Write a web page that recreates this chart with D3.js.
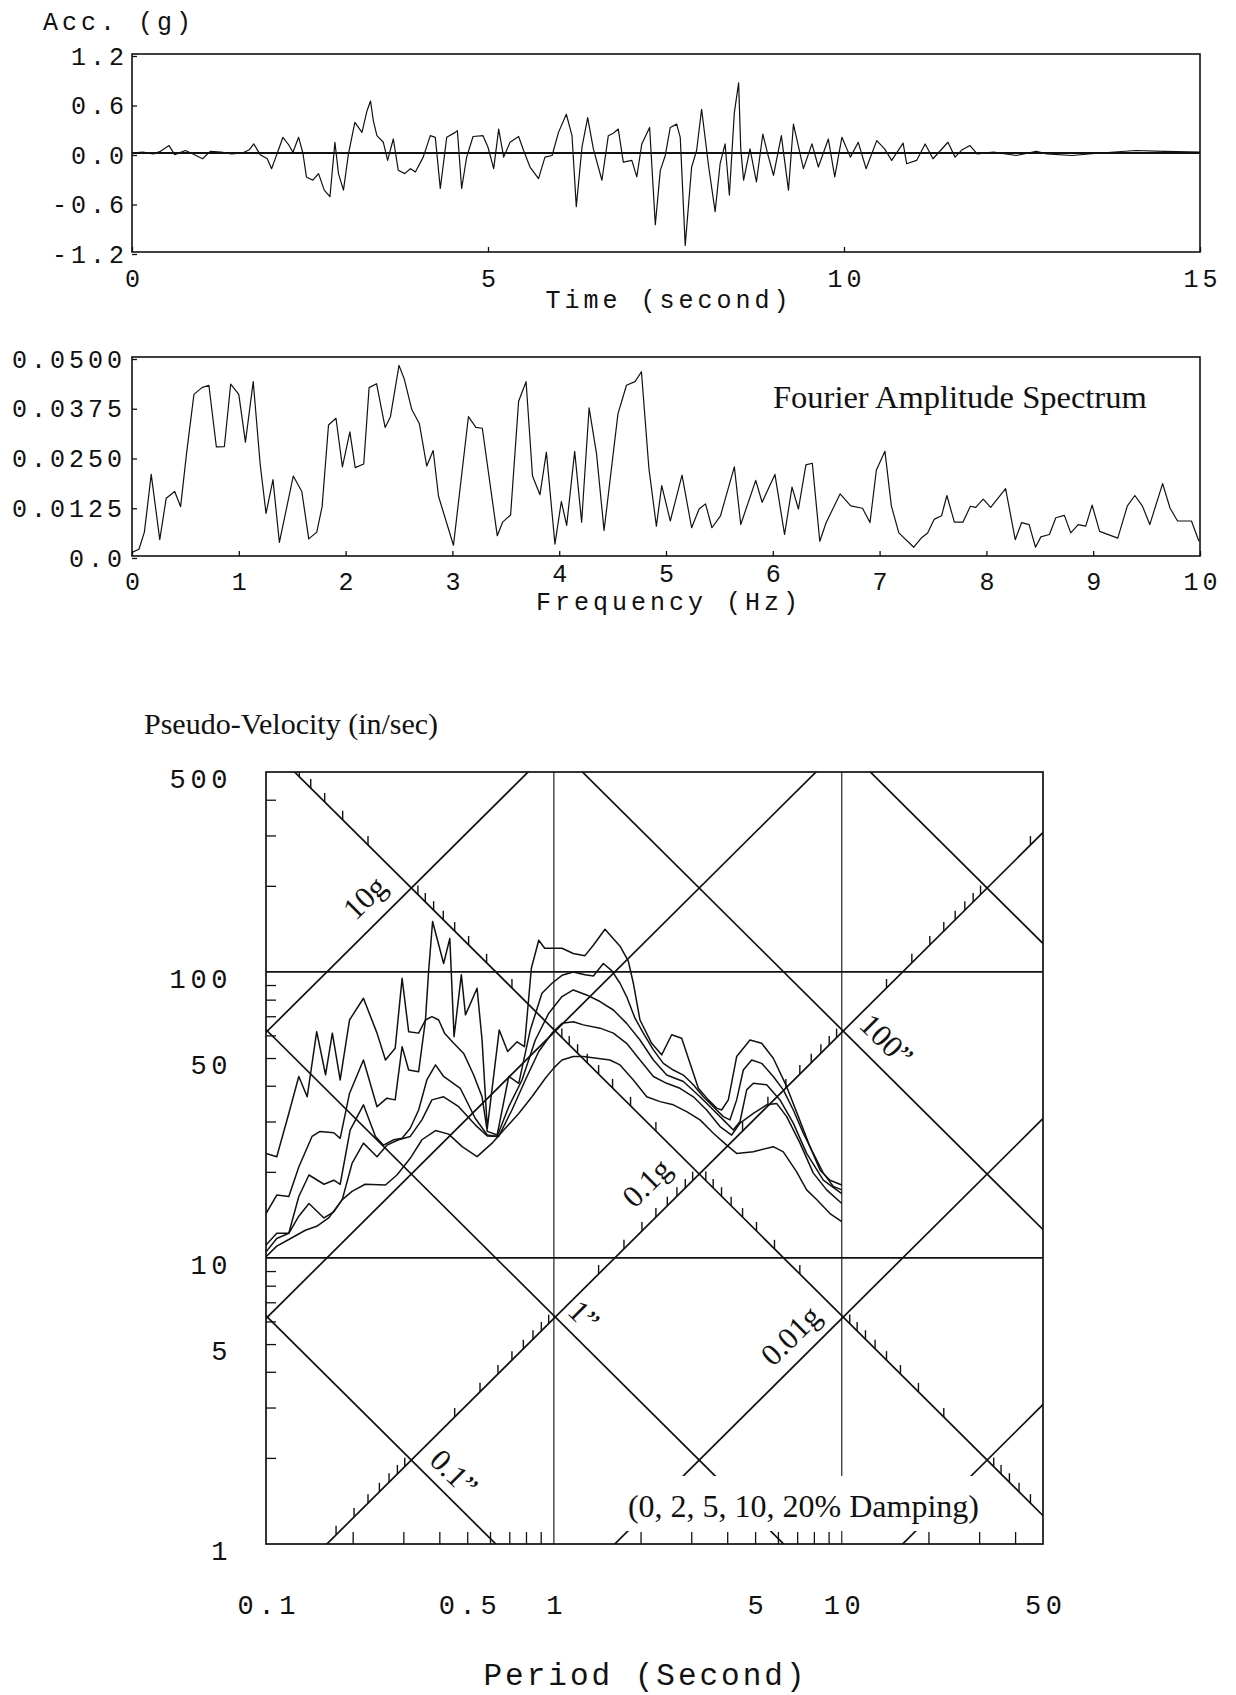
<!DOCTYPE html>
<html><head><meta charset="utf-8">
<script src="https://cdn.jsdelivr.net/npm/d3@7"></script>
<style>
body{margin:0;background:#fff;}
svg{display:block;background:#fff;}
</style></head><body>
<svg id="c" width="1236" height="1695"></svg>
<script>
// ================= DATA =================
// Acceleration time history (t in s, acc in g)
const accTime = [0,0.15,0.3,0.4,0.52,0.6,0.75,0.85,0.99,1.1,1.25,1.4,1.55,1.65,1.71,1.8,1.9,1.96,2.02,2.07,2.12,2.2,2.26,2.34,2.4,2.45,2.54,2.62,2.7,2.78,2.85,2.9,2.97,3.04,3.13,3.23,3.30,3.35,3.39,3.44,3.53,3.59,3.67,3.74,3.83,3.91,3.98,4.09,4.19,4.26,4.33,4.42,4.54,4.57,4.63,4.70,4.79,4.93,5.00,5.08,5.15,5.22,5.31,5.43,5.50,5.59,5.71,5.80,5.90,5.99,6.10,6.18,6.24,6.32,6.40,6.48,6.60,6.69,6.76,6.83,6.90,7.02,7.09,7.16,7.27,7.35,7.42,7.49,7.56,7.65,7.70,7.77,7.86,7.93,8.00,8.10,8.19,8.26,8.33,8.39,8.46,8.52,8.55,8.59,8.68,8.77,8.86,8.94,9.01,9.12,9.22,9.29,9.43,9.55,9.64,9.78,9.87,9.97,10.09,10.20,10.31,10.46,10.57,10.67,10.83,10.88,11.02,11.14,11.25,11.46,11.56,11.66,11.77,11.87,12.1,12.42,12.7,12.85,13.2,13.6,14.1,14.5,15];
const accValue = [0,0.01,-0.01,0.02,0.09,-0.02,0.03,-0.01,-0.07,0.02,0.01,-0.01,0.0,0.04,0.11,-0.02,-0.07,-0.19,-0.05,0.07,0.19,0.10,0.01,0.19,0.0,-0.29,-0.33,-0.25,-0.45,-0.53,0.13,-0.25,-0.45,-0.01,0.37,0.25,0.51,0.63,0.39,0.21,0.13,-0.09,0.17,-0.21,-0.25,-0.19,-0.23,-0.05,0.21,0.19,-0.43,0.19,0.25,0.27,-0.43,-0.05,0.20,0.21,0.07,-0.19,0.29,-0.05,0.13,0.20,0.03,-0.17,-0.31,-0.05,-0.03,0.25,0.47,0.21,-0.65,0.07,0.43,0.05,-0.33,0.21,0.24,0.29,-0.11,-0.09,-0.29,0.11,0.31,-0.87,-0.21,-0.03,0.31,0.35,0.19,-1.12,-0.17,0.03,0.53,-0.17,-0.71,-0.13,0.11,-0.51,0.49,0.85,0.05,-0.33,0.05,-0.35,0.23,-0.05,-0.27,0.21,-0.45,0.35,-0.19,0.11,-0.17,0.17,-0.29,0.19,-0.05,0.13,-0.19,0.15,0.05,-0.09,0.12,-0.13,-0.09,0.11,-0.07,0.13,-0.05,0.04,0.09,-0.01,0.01,-0.03,0.02,-0.01,-0.03,0.0,0.03,0.02,0.01];

// Fourier amplitude spectrum (Hz, amplitude)
const fasFreq = [0,0.065,0.116,0.18,0.26,0.32,0.40,0.455,0.51,0.58,0.655,0.72,0.79,0.865,0.924,1.0,1.062,1.135,1.2,1.255,1.32,1.38,1.51,1.59,1.655,1.73,1.78,1.84,1.91,1.97,2.04,2.09,2.17,2.22,2.29,2.37,2.42,2.50,2.55,2.62,2.69,2.76,2.82,2.87,3.01,3.15,3.22,3.28,3.42,3.47,3.545,3.62,3.69,3.75,3.82,3.88,3.96,4.02,4.07,4.145,4.21,4.28,4.35,4.42,4.55,4.63,4.71,4.77,4.84,4.91,4.96,5.04,5.15,5.24,5.31,5.37,5.43,5.51,5.64,5.70,5.84,5.90,6.02,6.11,6.18,6.24,6.31,6.37,6.44,6.50,6.63,6.73,6.84,6.91,6.97,7.05,7.11,7.18,7.32,7.39,7.45,7.51,7.58,7.63,7.70,7.78,7.85,7.90,7.97,8.04,8.18,8.27,8.33,8.40,8.46,8.51,8.59,8.65,8.73,8.79,8.86,8.93,8.99,9.06,9.23,9.32,9.39,9.46,9.53,9.65,9.72,9.79,9.92,9.99];
const fasAmp = [0.0009,0.0017,0.006,0.0205,0.0041,0.0145,0.0162,0.0124,0.0256,0.0406,0.0423,0.0429,0.0274,0.0275,0.0432,0.0406,0.0286,0.0438,0.0231,0.0107,0.0192,0.0034,0.0201,0.0162,0.0043,0.006,0.0124,0.0329,0.0346,0.0224,0.0312,0.0222,0.0231,0.0423,0.0433,0.0323,0.035,0.0479,0.0444,0.0368,0.0333,0.0226,0.0265,0.015,0.0027,0.035,0.0323,0.0321,0.0051,0.0085,0.0103,0.0389,0.0438,0.0201,0.0154,0.0261,0.003,0.0137,0.0077,0.0263,0.0085,0.0372,0.0256,0.0064,0.0357,0.0429,0.0438,0.0463,0.022,0.0075,0.0177,0.0088,0.0203,0.0071,0.0118,0.0131,0.0071,0.0101,0.0224,0.0079,0.019,0.0135,0.0205,0.0054,0.0173,0.0118,0.0229,0.0233,0.0037,0.0084,0.0156,0.0126,0.012,0.0084,0.0216,0.0263,0.0126,0.0058,0.0022,0.0045,0.0058,0.0092,0.0101,0.0152,0.0085,0.0085,0.0125,0.0122,0.0143,0.0122,0.0169,0.0041,0.0084,0.0079,0.0022,0.0048,0.0054,0.0096,0.0102,0.0058,0.0079,0.0075,0.0128,0.0062,0.0045,0.0126,0.0152,0.0126,0.0079,0.0182,0.012,0.0088,0.0088,0.0037];

// Pseudo-velocity response spectra: [period (s), PSV (in/s)]
const psv0 = [[0.100,23.2],[0.109,22.6],[0.120,32.0],[0.130,43.1],[0.139,36.6],[0.150,61.8],[0.161,43.7],[0.170,61.1],[0.181,41.9],[0.195,67.9],[0.218,80.9],[0.243,61.1],[0.260,49.2],[0.281,54.1],[0.297,95],[0.313,61.8],[0.339,61.1],[0.358,67.9],[0.367,100],[0.379,150],[0.414,107],[0.435,131],[0.450,59.4],[0.477,97.8],[0.493,70.8],[0.541,87.7],[0.563,57.8],[0.587,28.4],[0.646,62.7],[0.691,52.7],[0.745,57.0],[0.790,54.8],[0.835,103],[0.886,129],[0.929,121],[1.067,121],[1.168,116],[1.282,114],[1.371,124],[1.505,141],[1.697,123],[1.814,109],[1.888,91.3],[1.991,67.9],[2.186,56.3],[2.368,51.3],[2.566,60.3],[2.779,58.6],[2.931,49.9],[3.176,39.2],[3.440,35.7],[3.677,33.4],[3.826,32.9],[4.036,35.7],[4.314,50.6],[4.800,57.8],[5.269,56.3],[5.783,49.9],[6.436,39.7],[7.066,31.2],[7.757,24.5],[8.401,20.3],[9.100,18.7],[10.0,18.0]];
const psv2 = [[0.100,14.3],[0.109,16.6],[0.120,16.4],[0.130,20.8],[0.1445,26.6],[0.154,27.7],[0.172,27.4],[0.181,26.2],[0.195,37.6],[0.218,49.2],[0.243,33.8],[0.263,36.2],[0.281,35.7],[0.297,54.8],[0.313,45.4],[0.339,44.8],[0.358,67.9],[0.377,69.8],[0.398,67.9],[0.417,61.1],[0.449,56.3],[0.486,51.9],[0.526,43.7],[0.563,36.6],[0.587,27.7],[0.635,26.9],[0.697,43.1],[0.755,40.8],[0.828,62.7],[0.909,84.2],[0.985,91.3],[1.067,97.3],[1.168,100],[1.282,97.7],[1.371,96.8],[1.485,107],[1.588,101],[1.697,91.3],[1.789,82.0],[1.913,68.9],[2.045,61.1],[2.216,53.4],[2.400,47.9],[2.599,45.4],[2.817,43.6],[3.051,40.3],[3.305,36.6],[3.580,33.8],[3.878,31.2],[4.090,30.4],[4.314,35.7],[4.550,45.4],[4.864,49.2],[5.269,47.9],[5.783,43.1],[6.265,38.7],[6.786,32.9],[7.352,27.3],[7.964,23.2],[8.627,19.8],[9.346,17.8],[10.0,17.3]];
const psv5 = [[0.100,11.1],[0.109,12.2],[0.120,12.2],[0.130,16.4],[0.141,19.5],[0.159,18.1],[0.172,18.7],[0.181,18.1],[0.196,28.0],[0.218,34.3],[0.240,26.6],[0.256,24.8],[0.278,25.9],[0.297,26.2],[0.317,28.4],[0.339,32.9],[0.362,41.9],[0.388,47.3],[0.414,43.1],[0.473,39.2],[0.533,30.8],[0.587,26.9],[0.635,26.6],[0.697,33.8],[0.775,41.9],[0.862,57.8],[0.959,71.6],[1.067,82.0],[1.168,86.5],[1.299,83.1],[1.446,78.8],[1.609,73.6],[1.789,66.1],[1.991,57.8],[2.216,49.2],[2.465,43.6],[2.817,41.4],[3.218,36.6],[3.580,32.9],[3.878,30.4],[4.201,28.0],[4.432,30.0],[4.674,38.7],[4.929,40.8],[5.484,40.3],[6.100,35.7],[6.786,29.6],[7.551,23.2],[8.627,18.7],[10.0,16.8]];
const psv10 = [[0.100,10.5],[0.109,11.7],[0.120,12.2],[0.130,14.0],[0.141,15.5],[0.159,13.8],[0.172,14.5],[0.184,16.0],[0.199,21.4],[0.218,25.2],[0.243,22.6],[0.263,24.8],[0.289,25.9],[0.317,26.6],[0.348,30.4],[0.377,35.7],[0.414,36.6],[0.467,33.8],[0.533,29.2],[0.587,26.7],[0.643,26.6],[0.715,32.9],[0.796,41.9],[0.886,52.7],[0.985,61.1],[1.067,66.2],[1.168,67.0],[1.265,65.3],[1.446,63.6],[1.609,61.1],[1.789,56.3],[1.991,49.2],[2.216,43.1],[2.465,40.8],[2.742,39.2],[3.051,36.6],[3.394,32.9],[3.776,28.8],[4.145,26.9],[4.432,29.6],[4.929,32.0],[5.484,34.3],[5.939,34.7],[6.436,31.2],[7.160,25.2],[7.964,19.8],[8.861,17.3],[10.0,15.5]];
const psv20 = [[0.100,10.1],[0.109,11.0],[0.120,11.6],[0.137,12.5],[0.150,12.9],[0.165,13.8],[0.184,16.0],[0.199,17.1],[0.221,18.1],[0.260,18.0],[0.285,19.5],[0.317,22.3],[0.348,25.9],[0.388,27.9],[0.431,27.1],[0.480,24.5],[0.541,22.6],[0.610,25.2],[0.678,28.4],[0.755,32.0],[0.839,36.6],[0.934,42.5],[0.998,46.1],[1.067,49.2],[1.168,50.6],[1.265,50.6],[1.408,49.9],[1.566,49.2],[1.697,47.3],[1.888,41.9],[2.101,36.6],[2.337,35.2],[2.599,34.3],[2.892,32.5],[3.218,30.4],[3.580,27.3],[3.983,24.8],[4.314,23.2],[4.929,23.5],[5.783,24.5],[6.265,23.5],[6.970,20.0],[7.551,17.3],[8.177,16.0],[9.100,14.3],[10.0,13.4]];
const psvCurves = [psv0, psv2, psv5, psv10, psv20];

// Axis ticks / labels
const accTickValues = [1.2, 0.6, 0, -0.6, -1.2];
const accTickLabels = ["1.2", "0.6", "0.0", "-0.6", "-1.2"];
const timeTicks = [0, 5, 10, 15];
const fasTickValues = [0.05, 0.0375, 0.025, 0.0125, 0];
const fasTickLabels = ["0.0500", "0.0375", "0.0250", "0.0125", "0.0"];
const freqTicks = [0,1,2,3,4,5,6,7,8,9,10];
const freqRaisedLabels = [4, 5, 6];
const periodLabels = [0.1, 0.5, 1, 5, 10, 50];
const psvLabels = [1, 5, 10, 50, 100, 500];
const periodMinorTicks = [0.2,0.3,0.4,0.5,0.6,0.7,0.8,0.9,2,3,4,5,6,7,8,9,20,30,40];
const psvMinorTicks = [2,3,4,5,6,7,8,9,20,30,40,50,60,70,80,90,200,300,400];
const psvGridH = [10, 100];
const periodGridV = [1, 10];

// Tripartite grid
const accelLines = [0.001, 0.01, 0.1, 1, 10];     // g
const dispLines = [0.1, 1, 10, 100, 1000];         // inch
const tickMultipliers = [2,3,4,5,6,7,8,9];
const accScaleDecades = [0.0001, 0.001, 0.01, 0.1, 1, 10]; // ticks along D = 10"
const dispScaleDecades = [0.01, 0.1, 1, 10, 100, 1000];     // ticks along A = 0.1g
const accAxisOnDisp = 10;
const dispAxisOnAcc = 0.1;
const accLineLabels = [
  {A: 10, T: 0.255, off: 26, text: "10g"},
  {A: 0.1, T: 2.5, off: 31, text: "0.1g"},
  {A: 0.01, T: 7.6, off: 24, text: "0.01g"}
];
const dispLineLabels = [
  {D: 100, T: 12.5, off: 24, text: "100\u201D"},
  {D: 1, T: 1.13, off: 21, text: "1\u201D"},
  {D: 0.1, T: 0.40, off: 21, text: "0.1\u201D"}
];

// ================= DRAWING =================
const G_IN = 386.09, TWO_PI = 2 * Math.PI;
const ink = "#111";
const MONO = "'Liberation Mono','Courier New',monospace";
const SERIF = "'Liberation Serif','Times New Roman',serif";
const svg = d3.select("#c");
const FS = 25, LS = 4.0;

function styleAxis(g, size, ls) {
  g.select(".domain").remove();
  g.selectAll(".tick line").attr("stroke", ink).attr("stroke-width", 1.3);
  g.selectAll(".tick text").attr("font-family", MONO).attr("font-size", size)
    .style("letter-spacing", ls + "px").attr("fill", ink);
}
function monoLabel(x, y, txt, size, ls, anchor) {
  return svg.append("text").attr("x", x).attr("y", y).text(txt)
    .attr("font-family", MONO).attr("font-size", size).style("letter-spacing", ls + "px")
    .attr("text-anchor", anchor || "start").attr("fill", ink);
}

// ---------- Panel 1: acceleration ----------
const x1 = d3.scaleLinear().domain([0, 15]).range([132, 1200]);
const y1 = d3.scaleLinear().domain([-1.2, 1.2]).range([252, 54]);
svg.append("path").datum(d3.zip(accTime, accValue))
  .attr("d", d3.line().x(d => x1(d[0])).y(d => y1(d[1])))
  .attr("fill", "none").attr("stroke", ink).attr("stroke-width", 1.2).attr("stroke-linejoin", "round");
svg.append("line").attr("x1", x1(0)).attr("x2", x1(15)).attr("y1", y1(0)).attr("y2", y1(0))
  .attr("stroke", ink).attr("stroke-width", 2);
svg.append("rect").attr("x", x1(0)).attr("y", y1(1.2)).attr("width", x1(15) - x1(0)).attr("height", y1(-1.2) - y1(1.2))
  .attr("fill", "none").attr("stroke", ink).attr("stroke-width", 1.6);
svg.append("g").attr("transform", `translate(${x1(0)},2)`)
  .call(d3.axisLeft(y1).tickValues(accTickValues).tickSize(-5).tickPadding(4).tickFormat((d, i) => accTickLabels[i]))
  .call(g => styleAxis(g, FS, LS));
svg.append("g").attr("transform", `translate(0,${y1(-1.2)})`)
  .call(d3.axisBottom(x1).tickValues(timeTicks).tickSize(-5).tickPadding(17).tickFormat(d3.format("d")))
  .call(g => { styleAxis(g, FS, LS); g.selectAll(".tick text").attr("dx", LS / 2); });
monoLabel(43, 30, "Acc. (g)", FS, LS);
monoLabel(667 + LS / 2, 308, "Time (second)", FS, LS, "middle");

// ---------- Panel 2: Fourier spectrum ----------
const x2 = d3.scaleLinear().domain([0, 10]).range([132, 1200]);
const y2 = d3.scaleLinear().domain([0, 0.05]).range([556, 357]);
svg.append("path").datum(d3.zip(fasFreq, fasAmp))
  .attr("d", d3.line().x(d => x2(d[0])).y(d => y2(d[1])))
  .attr("fill", "none").attr("stroke", ink).attr("stroke-width", 1.2).attr("stroke-linejoin", "round");
svg.append("rect").attr("x", x2(0)).attr("y", y2(0.05)).attr("width", x2(10) - x2(0)).attr("height", y2(0) - y2(0.05))
  .attr("fill", "none").attr("stroke", ink).attr("stroke-width", 1.6);
svg.append("g").attr("transform", `translate(${x2(0)},2)`)
  .call(d3.axisLeft(y2).tickValues(fasTickValues).tickSize(-5).tickPadding(6).tickFormat((d, i) => fasTickLabels[i]))
  .call(g => styleAxis(g, FS, LS));
svg.append("g").attr("transform", `translate(0,${y2(0)})`)
  .call(d3.axisBottom(x2).tickValues(freqTicks).tickSize(-5).tickPadding(16).tickFormat(d3.format("d")))
  .call(g => {
    styleAxis(g, FS, LS);
    g.selectAll(".tick text").attr("dx", LS / 2)
      .attr("transform", d => freqRaisedLabels.includes(d) ? "translate(0,-8)" : null);
  });
monoLabel(667 + LS / 2, 610, "Frequency (Hz)", FS, LS, "middle");
svg.append("text").attr("x", 773).attr("y", 408).text("Fourier Amplitude Spectrum")
  .attr("font-family", SERIF).attr("font-size", 32.5).attr("fill", ink);

// ---------- Panel 3: tripartite response spectrum ----------
const xs = d3.scaleLog().domain([0.1, 50]).range([266, 1043]);
const ys = d3.scaleLog().domain([1, 500]).range([1544, 772]);
const X0 = xs(0.1), X1 = xs(50), Y0 = ys(500), Y1 = ys(1);

svg.append("defs").append("clipPath").attr("id", "pclip")
  .append("rect").attr("x", X0).attr("y", Y0).attr("width", X1 - X0).attr("height", Y1 - Y0);
const pg = svg.append("g").attr("clip-path", "url(#pclip)");

const psvAcc = (A, T) => A * G_IN * T / TWO_PI;
const psvDisp = (D, T) => TWO_PI * D / T;
const lineGen = d3.line().x(d => xs(d[0])).y(d => ys(d[1]));
const spanT = [0.02, 200];

// grid lines
pg.selectAll(".gh").data(psvGridH).join("line")
  .attr("x1", X0).attr("x2", X1).attr("y1", d => ys(d)).attr("y2", d => ys(d))
  .attr("stroke", ink).attr("stroke-width", 1.8);
pg.selectAll(".gv").data(periodGridV).join("line")
  .attr("y1", Y0).attr("y2", Y1).attr("x1", d => xs(d)).attr("x2", d => xs(d))
  .attr("stroke", ink).attr("stroke-width", 1.1);

// constant acceleration and displacement lines
pg.selectAll(".al").data(accelLines).join("path")
  .attr("d", A => lineGen(spanT.map(T => [T, psvAcc(A, T)])))
  .attr("fill", "none").attr("stroke", ink).attr("stroke-width", 1.7);
pg.selectAll(".dl").data(dispLines).join("path")
  .attr("d", D => lineGen(spanT.map(T => [T, psvDisp(D, T)])))
  .attr("fill", "none").attr("stroke", ink).attr("stroke-width", 1.7);

// scale ticks along the diagonal axes
const accTickVals = accScaleDecades.flatMap(d => tickMultipliers.map(k => k * d));
const dispTickVals = dispScaleDecades.flatMap(d => tickMultipliers.map(k => k * d));
const tAt = (D, A) => TWO_PI * Math.sqrt(D / (A * G_IN));
const accTickPts = accTickVals.map(A => { const T = tAt(accAxisOnDisp, A); return [T, psvDisp(accAxisOnDisp, T)]; });
const dispTickPts = dispTickVals.map(D => { const T = tAt(D, dispAxisOnAcc); return [T, psvAcc(dispAxisOnAcc, T)]; });
pg.selectAll(".dt").data(accTickPts.concat(dispTickPts)).join("line")
  .attr("x1", d => xs(d[0])).attr("x2", d => xs(d[0]))
  .attr("y1", d => ys(d[1])).attr("y2", d => ys(d[1]) - 9)
  .attr("stroke", ink).attr("stroke-width", 1.4);

// response curves
pg.selectAll(".curve").data(psvCurves).join("path")
  .attr("d", d => lineGen(d))
  .attr("fill", "none").attr("stroke", ink).attr("stroke-width", 1.5).attr("stroke-linejoin", "round");

// damping note with white background
const dampBox = svg.append("rect").attr("fill", "#fff");
const dampText = svg.append("text").attr("x", 979).attr("y", 1517).attr("text-anchor", "end")
  .text("(0, 2, 5, 10, 20% Damping)").attr("font-family", SERIF).attr("font-size", 32).attr("fill", ink);
const bb = dampText.node().getBBox();
dampBox.attr("x", bb.x - 8).attr("y", 1476).attr("width", bb.width + 14).attr("height", 1531 - 1476);

// diagonal line labels
function diagLabel(T, psv, slopeSign, off, txt) {
  const x = xs(T), y = ys(psv);
  const xb = xs(T * 1.5), yb = ys(slopeSign > 0 ? psv * 1.5 : psv / 1.5);
  const ang = Math.atan2(yb - y, xb - x) * 180 / Math.PI;
  const len = Math.hypot(xb - x, yb - y);
  let nx = (yb - y) / len, ny = -(xb - x) / len;
  if (ny > 0) { nx = -nx; ny = -ny; }
  const px = x + nx * off, py = y + ny * off;
  svg.append("text").attr("x", px).attr("y", py).text(txt)
    .attr("text-anchor", "middle").attr("dominant-baseline", "central")
    .attr("transform", `rotate(${ang},${px},${py})`)
    .attr("font-family", SERIF).attr("font-size", 31).attr("fill", ink);
}
accLineLabels.forEach(l => diagLabel(l.T, psvAcc(l.A, l.T), 1, l.off, l.text));
dispLineLabels.forEach(l => diagLabel(l.T, psvDisp(l.D, l.T), -1, l.off, l.text));

// inner axis ticks
svg.append("g").attr("transform", `translate(${X0},0)`)
  .call(d3.axisLeft(ys).tickValues(psvMinorTicks).tickSize(-10).tickFormat(""))
  .call(g => styleAxis(g, 10, 0));
svg.append("g").attr("transform", `translate(0,${Y1})`)
  .call(d3.axisBottom(xs).tickValues(periodMinorTicks).tickSize(-12).tickFormat(""))
  .call(g => styleAxis(g, 10, 0));
// labels
svg.append("g").attr("transform", `translate(${X0},7)`)
  .call(d3.axisLeft(ys).tickValues(psvLabels).tickSize(0).tickPadding(34).tickFormat(d3.format("d")))
  .call(g => styleAxis(g, 27, 4.6));
svg.append("g").attr("transform", `translate(0,${Y1})`)
  .call(d3.axisBottom(xs).tickValues(periodLabels).tickSize(0).tickPadding(51).tickFormat(d => String(d)))
  .call(g => { styleAxis(g, 27, 4.6); g.selectAll(".tick text").attr("dx", 2.3); });

// frame
svg.append("rect").attr("x", X0).attr("y", Y0).attr("width", X1 - X0).attr("height", Y1 - Y0)
  .attr("fill", "none").attr("stroke", ink).attr("stroke-width", 1.7);

svg.append("text").attr("x", 144).attr("y", 734).text("Pseudo-Velocity (in/sec)")
  .attr("font-family", SERIF).attr("font-size", 30).attr("fill", ink);
monoLabel(644 + 1.5, 1685, "Period (Second)", 31, 3, "middle");
</script></body></html>
